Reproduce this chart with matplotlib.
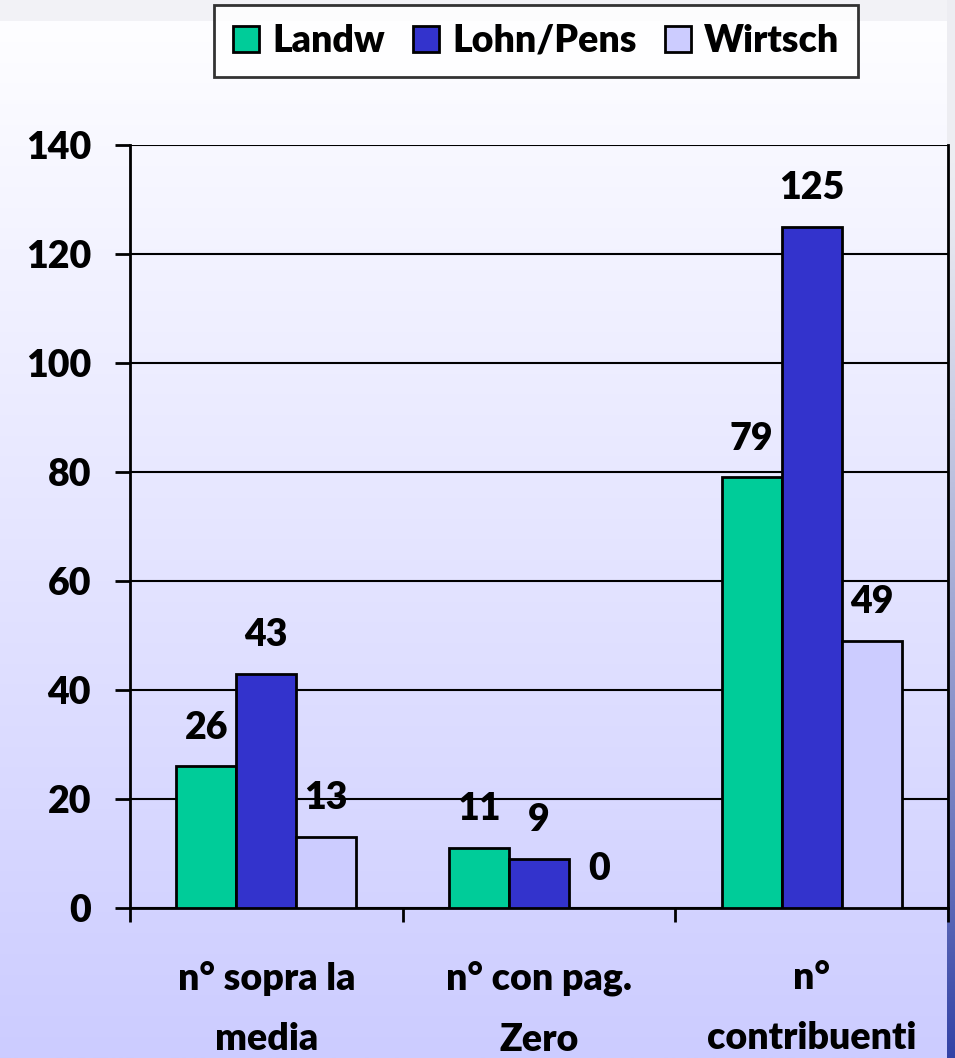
import numpy as np
import matplotlib.pyplot as plt
from matplotlib.patches import Patch

plt.rcParams['font.family'] = ['Lato', 'DejaVu Sans']
plt.rcParams['font.weight'] = 'heavy'

# Data
categories = ["n° sopra la\nmedia", "n° con pag.\nZero", "n°\ncontribuenti"]
series_names = ["Landw", "Lohn/Pens", "Wirtsch"]
landw = [26, 11, 79]
lohn = [43, 9, 125]
wirtsch = [13, 0, 49]
colors = ["#00CC99", "#3333CC", "#CCCCFF"]

W, H = 955, 1058
fig = plt.figure(figsize=(W / 100, H / 100), dpi=100)

# Background: vertical gradient, grey band on top, blue strip on the right
yy = np.linspace(0, 1, H)[:, None]
top = np.array([1.0, 1.0, 1.0])
bot = np.array([0.80, 0.80, 1.0])
bg = top + (bot - top) * yy[..., None]
bg = np.repeat(bg, W, axis=1)
bg[:21, :, :] = [0.95, 0.95, 0.965]
strip_top = np.array([0.93, 0.93, 0.95])
strip_bot = np.array([0.20, 0.26, 0.65])
t = np.clip((yy - 0.15) / 0.85, 0, 1) ** 1.3
bg[:, 946:, :] = (strip_top + (strip_bot - strip_top) * t[..., None])
bg_ax = fig.add_axes([0, 0, 1, 1], zorder=-10)
bg_ax.imshow(bg, aspect="auto", extent=[0, 1, 0, 1])
bg_ax.axis("off")

ax = fig.add_axes([130 / W, 1 - 908 / H, (948 - 130) / W, (908 - 145) / H])
ax.set_facecolor("none")

x = np.arange(len(categories))
width = 0.22
for i, (name, vals) in enumerate(zip(series_names, [landw, lohn, wirtsch])):
    pos = x + (i - 1) * width
    ax.bar(pos, vals, width, color=colors[i], edgecolor="black",
           linewidth=2, zorder=3, label=name)
    for px, v in zip(pos, vals):
        ax.annotate(str(v), (px, v), xytext=(0, 20), textcoords="offset points",
                    ha="center", va="baseline", fontsize=27, fontweight="heavy",
                    zorder=5)

ax.set_xlim(-0.5, 2.5)
ax.set_ylim(0, 140)
ax.set_yticks(range(0, 141, 20))
ax.grid(axis="y", color="black", linewidth=1.5, zorder=0)
ax.set_axisbelow(True)

ax.set_xticks([-0.5, 0.5, 1.5, 2.5])
ax.set_xticklabels([])
ax.set_xticks(x, minor=True)
ax.set_xticklabels(categories, minor=True, fontsize=27, fontweight="heavy",
                   linespacing=1.95)
ax.tick_params(axis="x", which="major", length=10, width=2, direction="out")
ax.tick_params(axis="x", which="minor", length=0, pad=38)
ax.tick_params(axis="y", length=11, width=2, direction="out", pad=17,
               labelsize=27)

for s in ax.spines.values():
    s.set_linewidth(2)
ax.spines["top"].set_visible(False)

handles = [Patch(facecolor=c, edgecolor="black", linewidth=2) for c in colors]
leg = fig.legend(handles, series_names, loc="center",
                 bbox_to_anchor=((209 + 863) / 2 / W, 1 - 41 / H),
                 ncol=3, frameon=True, fancybox=False,
                 handlelength=0.7, handleheight=0.7, handletextpad=0.35,
                 columnspacing=0.75, borderpad=0.5,
                 prop={"weight": "heavy", "size": 27})
leg.get_frame().set_edgecolor("black")
leg.get_frame().set_linewidth(2)
leg.get_frame().set_facecolor("white")

fig.savefig("out.png", dpi=100)
